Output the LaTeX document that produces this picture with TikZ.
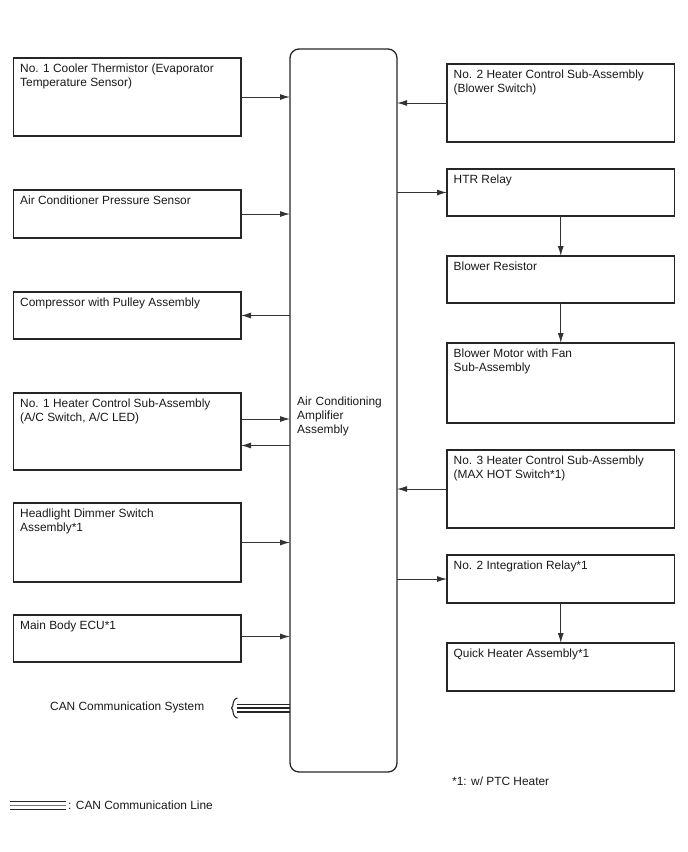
\documentclass[tikz,border=0pt]{standalone}
\usepackage{fontspec}
\setmainfont{Liberation Sans}
\usetikzlibrary{arrows.meta}
\definecolor{linec}{HTML}{262626}
\definecolor{arrc}{HTML}{333333}
\newcommand\fs{\fontsize{11.9pt}{14pt}\selectfont}
\tikzset{
  box/.style={draw=linec, line width=1.3pt, rectangle, anchor=north west,
    minimum width=227.5pt, minimum height=#1, inner sep=0pt, outer sep=0pt},
  lbl/.style={anchor=north west, inner sep=0pt, align=left, font=\fs, text=black!90},
  arr/.style={-{Latex[length=10pt,width=6pt]}, draw=arrc, line width=1pt},
  canline/.style={draw=linec, line width=1.4pt},
}
\begin{document}
\begin{tikzpicture}[x=1pt,y=-1pt]
\useasboundingbox (0,0) rectangle (688,852);
% central amplifier
\node[draw=linec, line width=1.3pt, rounded corners=9pt, anchor=north west,
  minimum width=107pt, minimum height=723pt, inner sep=0pt, outer sep=0pt] (amp) at (290,49) {};
\node[lbl, text width=95pt] (ampt) at (297,396.5) {Air Conditioning\\Amplifier\\Assembly};

% left boxes
\node[box=78pt] (l1) at (13.5,58) {};
\node[lbl] (l1t) at ([xshift=6.5pt,yshift=-6pt]l1.north west) {No. 1 Cooler Thermistor (Evaporator\\Temperature Sensor)};
\node[box=48pt] (l2) at (13.5,190) {};
\node[lbl] (l2t) at ([xshift=6.5pt,yshift=-6pt]l2.north west) {Air Conditioner Pressure Sensor};
\node[box=47pt] (l3) at (13.5,292) {};
\node[lbl] (l3t) at ([xshift=6.5pt,yshift=-6pt]l3.north west) {Compressor with Pulley Assembly};
\node[box=77pt] (l4) at (13.5,393) {};
\node[lbl] (l4t) at ([xshift=6.5pt,yshift=-6pt]l4.north west) {No. 1 Heater Control Sub-Assembly\\(A/C Switch, A/C LED)};
\node[box=79pt] (l5) at (13.5,503) {};
\node[lbl] (l5t) at ([xshift=6.5pt,yshift=-6pt]l5.north west) {Headlight Dimmer Switch\\Assembly*1};
\node[box=47pt] (l6) at (13.5,615) {};
\node[lbl] (l6t) at ([xshift=6.5pt,yshift=-6pt]l6.north west) {Main Body ECU*1};

% right boxes
\node[box=78pt] (r1) at (447,64) {};
\node[lbl] (r1t) at ([xshift=6.5pt,yshift=-6pt]r1.north west) {No. 2 Heater Control Sub-Assembly\\(Blower Switch)};
\node[box=47pt] (r2) at (447,169) {};
\node[lbl] (r2t) at ([xshift=6.5pt,yshift=-6pt]r2.north west) {HTR Relay};
\node[box=47pt] (r3) at (447,256) {};
\node[lbl] (r3t) at ([xshift=6.5pt,yshift=-6pt]r3.north west) {Blower Resistor};
\node[box=80pt] (r4) at (447,343) {};
\node[lbl] (r4t) at ([xshift=6.5pt,yshift=-6pt]r4.north west) {Blower Motor with Fan\\Sub-Assembly};
\node[box=78pt] (r5) at (447,450) {};
\node[lbl] (r5t) at ([xshift=6.5pt,yshift=-6pt]r5.north west) {No. 3 Heater Control Sub-Assembly\\(MAX HOT Switch*1)};
\node[box=48pt] (r6) at (447,555) {};
\node[lbl] (r6t) at ([xshift=6.5pt,yshift=-6pt]r6.north west) {No. 2 Integration Relay*1};
\node[box=48pt] (r7) at (447,643) {};
\node[lbl] (r7t) at ([xshift=6.5pt,yshift=-6pt]r7.north west) {Quick Heater Assembly*1};

% left connectors
\draw[arr] (l1.east) -- (l1.east -| amp.west);
\draw[arr] (l2.east) -- (l2.east -| amp.west);
\draw[arr] (l3.east -| amp.west) -- (l3.east);
\draw[arr] ([yshift=12.5pt]l4.east) -- ([yshift=12.5pt]l4.east -| amp.west);
\draw[arr] ([yshift=-14pt]l4.east -| amp.west) -- ([yshift=-14pt]l4.east);
\draw[arr] (l5.east) -- (l5.east -| amp.west);
\draw[arr] ([yshift=2pt]l6.east) -- ([yshift=2pt]l6.east -| amp.west);

% right connectors
\draw[arr] (r1.west) -- (r1.west -| amp.east);
\draw[arr] (r2.west -| amp.east) -- (r2.west);
\draw[arr] (r2.south) -- (r3.north);
\draw[arr] (r3.south) -- (r4.north);
\draw[arr] (r5.west) -- (r5.west -| amp.east);
\draw[arr] (r6.west -| amp.east) -- (r6.west);
\draw[arr] (r6.south) -- (r7.north);

% CAN communication
\node[anchor=west, inner sep=0pt, font=\fs, text=black!90] (cant) at (50,707) {CAN Communication System};
\coordinate (canL) at (236.5,708);
\draw[canline] ([yshift=3.8pt]canL) -- ([yshift=3.8pt]canL -| amp.west);
\draw[canline] (canL) -- (canL -| amp.west);
\draw[canline] ([yshift=-3.8pt]canL) -- ([yshift=-3.8pt]canL -| amp.west);
\draw[draw=linec, line width=1.1pt] (237.5,698) .. controls (231,700) and (234.5,706) .. (231.5,708)
  .. controls (234.5,710) and (231,716) .. (237.5,718);

% footnote
\node[anchor=west, inner sep=0pt, font=\fs, text=black!90] (fn) at (452,781) {*1: w/ PTC Heater};

% legend
\coordinate (legL) at (10,805.5);
\coordinate (legR) at (66,805.5);
\draw[canline] ([yshift=3.8pt]legL) -- ([yshift=3.8pt]legR);
\draw[canline, draw=black!55] (legL) -- (legR);
\draw[canline] ([yshift=-3.8pt]legL) -- ([yshift=-3.8pt]legR);
\node[anchor=west, inner sep=0pt, font=\fs, text=black!90] (legt) at (68,805) {: CAN Communication Line};
\end{tikzpicture}
\end{document}
